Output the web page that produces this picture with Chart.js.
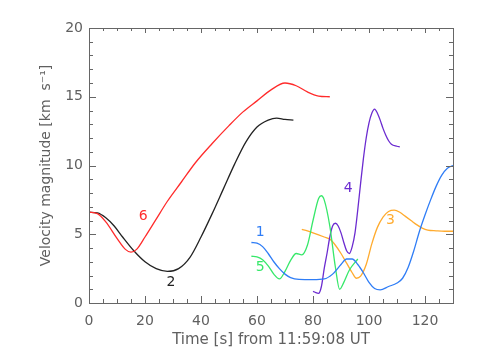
<!DOCTYPE html>
<html>
<head>
<meta charset="utf-8">
<script src="https://cdn.jsdelivr.net/npm/chart.js@4.4.1/dist/chart.umd.min.js"></script>
<style>
html,body{margin:0;padding:0;background:#fff;}
#wrap{width:480px;height:360px;}
</style>
</head>
<body>
<div id="wrap"><canvas id="c" width="480" height="360"></canvas></div>
<script>
// ---- data (time in s, velocity in km/s) ----
const s6Time = [0,3,6,10,13,15,17,20,24,28,33,38,44,50,55,60,65,70,74,78,82,86];
const s6Vel  = [6.6,6.5,5.9,4.7,3.9,3.7,3.9,4.8,6.1,7.4,8.8,10.2,11.6,12.9,13.9,14.7,15.5,16.0,15.8,15.35,15.05,15.0];

const s2Time = [0,3,6,9,12,16,20,24,28,32,36,40,44,48,52,56,60,64,67,70,73];
const s2Vel  = [6.6,6.55,6.2,5.6,4.8,3.8,3.0,2.5,2.3,2.5,3.3,4.8,6.5,8.3,10.1,11.7,12.8,13.3,13.45,13.35,13.3];

const s1Time = [58,60,62,64,66,68,70,72,75,80,84,87,90,92,94,96,98,100,102,104,107,110,112,114,116,118,120,122,124,126,128,130];
const s1Vel  = [4.4,4.35,4.1,3.6,3.0,2.5,2.1,1.85,1.72,1.7,1.75,2.1,2.8,3.2,3.2,2.8,2.2,1.5,1.05,0.95,1.2,1.45,1.8,2.6,3.8,5.2,6.4,7.5,8.5,9.3,9.8,10.0];

const s5Time = [58,60,62,64,66,68,70,72,74,76,78,80,82,83,84,86,88,89.5,91,93,96];
const s5Vel  = [3.4,3.35,3.15,2.7,2.1,1.75,2.3,3.1,3.6,3.5,4.2,6.0,7.6,7.8,7.5,5.6,2.6,1.0,1.5,2.4,3.2];

const s4Time = [80,81,82,83,84,85,86,87,88,89,90,91,92,93,94,95,96,97,98,99,100,101,102,103,104,105,106,107,108,110,111];
const s4Vel  = [0.85,0.75,0.7,1.2,2.5,3.6,4.8,5.6,5.8,5.6,5.1,4.4,3.8,3.6,4.1,5.1,6.8,8.7,10.5,12.0,13.1,13.8,14.1,13.8,13.3,12.7,12.2,11.8,11.55,11.4,11.35];

const s3Time = [76,78,80,82,84,86,88,90,92,94,95.5,97,99,101,103,105,107,109,111,113,115,117,119,121,124,127,130];
const s3Vel  = [5.35,5.25,5.1,4.95,4.8,4.65,4.2,3.6,2.9,2.2,1.8,1.95,2.8,4.3,5.5,6.25,6.65,6.75,6.6,6.3,6.0,5.7,5.45,5.3,5.25,5.22,5.22];

// curve label names and their anchor (data coordinates)
const labelNames = ['6','2','1','5','4','3'];
const labelTime  = [19.4, 29.3, 61.1, 61.1, 92.6, 107.7];
const labelVel   = [6.33, 1.48, 5.16, 2.62, 8.34, 6.04];

// axis tick settings
const xMajorTicks = [0,20,40,60,80,100,120];
const yMajorTicks = [0,5,10,15,20];

// ---- styling ----
const colors = {
  s1:'#2f7df6', s2:'#222222', s3:'#ffab2e', s4:'#6b2bd0', s5:'#37e86a', s6:'#ff2b2b'
};
const labelColors = [colors.s6, colors.s2, colors.s1, colors.s5, colors.s4, colors.s3];
const axisColor = '#666666';
const textColor = '#606060';

function pts(t, v){ return t.map((x,i)=>({x:x, y:v[i]})); }
function ds(t, v, c){
  return {data: pts(t,v), borderColor:c, backgroundColor:c, borderWidth:1.3,
          pointRadius:0, tension:0.4, cubicInterpolationMode:'monotone', fill:false};
}

Chart.defaults.font.family = "'DejaVu Sans', sans-serif";
Chart.defaults.font.size = 14;
Chart.defaults.color = textColor;

const frame = {
  id:'frame',
  afterDraw(chart){
    const {ctx, chartArea:a, scales:{x, y}} = chart;
    ctx.save();
    ctx.strokeStyle = axisColor;
    ctx.lineWidth = 1;
    ctx.strokeRect(a.left+0.5, a.top+0.5, a.right-a.left, a.bottom-a.top);
    ctx.beginPath();
    for (let v = x.min; v <= x.max + 1e-6; v += 5){
      const px = Math.round(x.getPixelForValue(v)) + 0.5;
      const major = v % 20 === 0;
      const lb = major ? 7 : 4, lt = major ? 5 : 3;
      ctx.moveTo(px, a.bottom); ctx.lineTo(px, a.bottom - lb);
      ctx.moveTo(px, a.top); ctx.lineTo(px, a.top + lt);
    }
    for (let v = y.min; v <= y.max + 1e-6; v += 1){
      const py = Math.round(y.getPixelForValue(v)) + 0.5;
      const major = v % 5 === 0;
      const l = major ? 7 : 4;
      ctx.moveTo(a.left, py); ctx.lineTo(a.left + l, py);
      ctx.moveTo(a.right, py); ctx.lineTo(a.right - l, py);
    }
    ctx.stroke();
    // curve labels
    ctx.font = "14px 'DejaVu Sans', sans-serif";
    ctx.textAlign = 'center';
    ctx.textBaseline = 'middle';
    labelNames.forEach((n,i)=>{
      ctx.fillStyle = labelColors[i];
      ctx.fillText(n, x.getPixelForValue(labelTime[i]), y.getPixelForValue(labelVel[i]));
    });
    ctx.restore();
  }
};

new Chart(document.getElementById('c'), {
  type:'line',
  data:{ datasets:[
    ds(s6Time, s6Vel, colors.s6),
    ds(s2Time, s2Vel, colors.s2),
    ds(s1Time, s1Vel, colors.s1),
    ds(s5Time, s5Vel, colors.s5),
    ds(s4Time, s4Vel, colors.s4),
    ds(s3Time, s3Vel, colors.s3)
  ]},
  options:{
    responsive:false, animation:false, devicePixelRatio:1,
    layout:{padding:{top:28, right:27, left:0, bottom:0}},
    plugins:{legend:{display:false}, tooltip:{enabled:false}},
    scales:{
      x:{ type:'linear', min:0, max:130,
          grid:{display:false, drawTicks:false}, border:{display:false},
          ticks:{stepSize:20, includeBounds:false, padding:10, maxRotation:0,
                 callback:(v)=> xMajorTicks.includes(v) ? String(v) : ''},
          title:{display:true, text:'Time [s] from 11:59:08 UT', font:{size:15}, padding:{top:0,bottom:11}},
          afterFit:(s)=>{ s.height = 57; } },
      y:{ type:'linear', min:0, max:20,
          grid:{display:false, drawTicks:false}, border:{display:false},
          ticks:{stepSize:5, padding:6,
                 callback:(v)=> yMajorTicks.includes(v) ? String(v) : ''},
          title:{display:true, text:'Velocity magnitude [km  s⁻¹]', padding:{top:38,bottom:0}},
          afterFit:(s)=>{ s.width = 89; } }
    }
  },
  plugins:[frame]
});
</script>
</body>
</html>
